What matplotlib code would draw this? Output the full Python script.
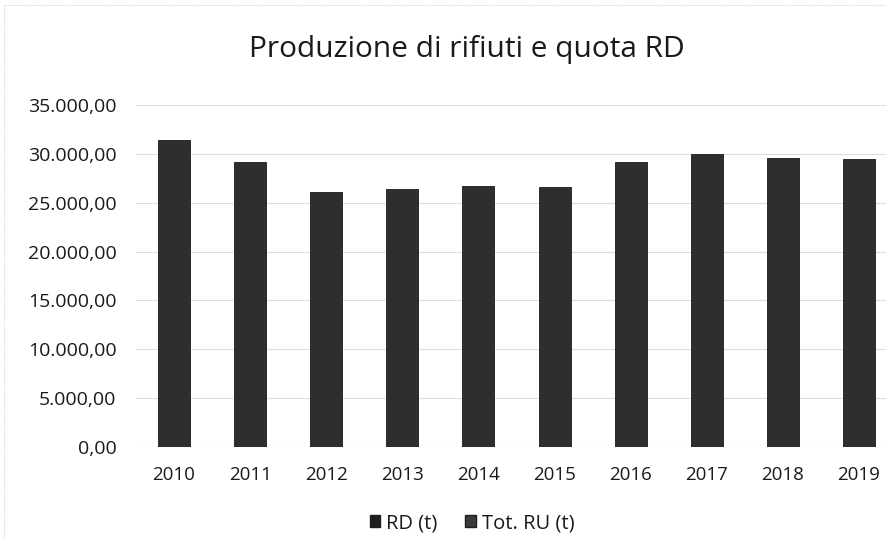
import matplotlib
matplotlib.use("Agg")
import matplotlib.pyplot as plt
from matplotlib.ticker import FuncFormatter, MultipleLocator
from matplotlib.patches import Rectangle, Patch

years = ["2010", "2011", "2012", "2013", "2014", "2015", "2016", "2017", "2018", "2019"]
tot_ru = [31400, 29130, 26060, 26400, 26740, 26640, 29130, 29980, 29540, 29440]
series_labels = ["RD (t)", "Tot. RU (t)"]
title = "Produzione di rifiuti e quota RD"

plt.rcParams["font.family"] = ["Open Sans", "DejaVu Sans"]

fig = plt.figure(figsize=(8.87, 5.40), dpi=100)
ax = fig.add_axes([136 / 887, (540 - 447) / 540, (897 - 136) / 887, (447 - 105) / 540])

x = list(range(len(years)))
ax.bar(x, tot_ru, width=0.42, color="#2e2e2e", edgecolor="#1a1a1a", linewidth=0.6,
       label=series_labels[1], zorder=3)

ax.set_xlim(-0.5, len(years) - 0.5)
ax.set_ylim(0, 35000)
ax.yaxis.set_major_locator(MultipleLocator(5000))
ax.yaxis.set_major_formatter(FuncFormatter(
    lambda v, p: f"{v:,.2f}".replace(",", "X").replace(".", ",").replace("X", ".")))
ax.set_xticks(x)
ax.set_xticklabels(years)
ax.tick_params(axis="both", length=0, colors="#1a1a1a")
ax.tick_params(axis="y", pad=14, labelsize=14)
ax.tick_params(axis="x", pad=14, labelsize=13.5)
ax.grid(axis="y", color="#dddddd", linewidth=0.8, zorder=0)
for s in ax.spines.values():
    s.set_visible(False)

fig.text(467 / 887, 1 - 50 / 540, title, ha="center", va="center", fontsize=21.5, color="#1a1a1a")

handles = [Patch(facecolor="#1e1e1e", edgecolor="#1e1e1e", label=series_labels[0]),
           Patch(facecolor="#3a3a3a", edgecolor="#1e1e1e", label=series_labels[1])]
leg = fig.legend(handles=handles, loc="center", bbox_to_anchor=(472 / 887, 1 - 523 / 540), ncol=2,
                 frameon=False, fontsize=14.5, handlelength=0.5, handleheight=0.5,
                 handletextpad=0.3, columnspacing=1.4)
for t in leg.get_texts():
    t.set_color("#1a1a1a")

fig.patches.append(Rectangle((0.004, 0.0), 0.996, 0.99, transform=fig.transFigure,
                             fill=False, edgecolor="#bbbbbb", linewidth=0.6, linestyle=":"))

fig.savefig("out.png", dpi=100)
